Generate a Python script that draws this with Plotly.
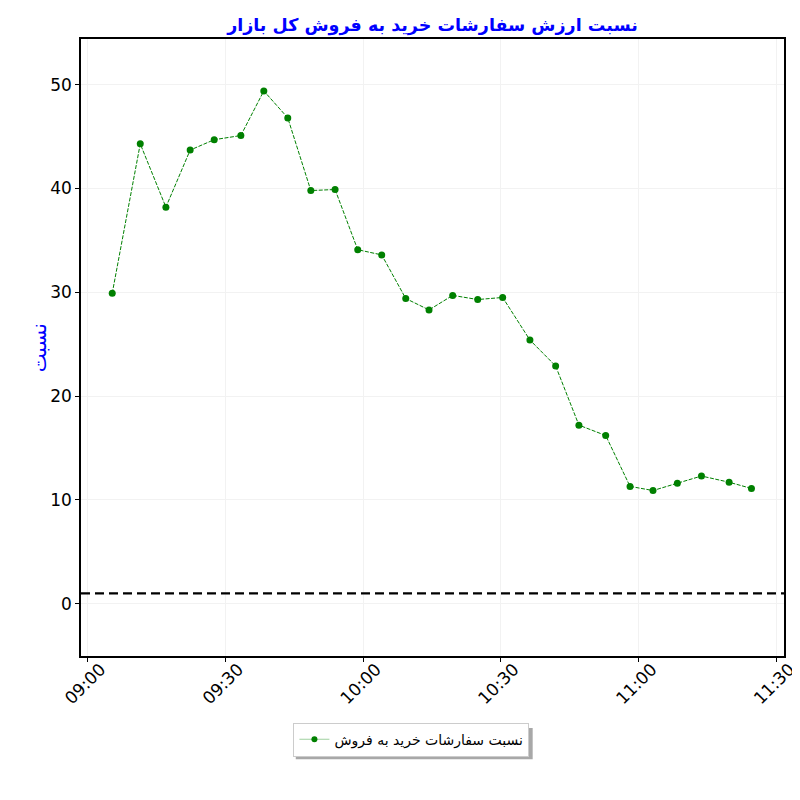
import plotly.graph_objects as go

# ساعت نمونه‌ها و نسبت ارزش سفارشات خرید به فروش
times = ["09:05:22", "09:11:28", "09:17:03", "09:22:20", "09:27:34", "09:33:22",
         "09:38:22", "09:43:35", "09:48:36", "09:53:53", "09:58:49", "10:04:02",
         "10:09:16", "10:14:20", "10:19:29", "10:24:56", "10:30:22", "10:36:18",
         "10:41:54", "10:46:58", "10:52:48", "10:58:06", "11:03:06", "11:08:24",
         "11:13:39", "11:19:40", "11:24:32"]
ratio = [29.9, 44.3, 38.2, 43.7, 44.7, 45.1, 49.4, 46.8, 39.8, 39.9, 34.1, 33.6,
         29.4, 28.3, 29.7, 29.3, 29.5, 25.4, 22.9, 17.2, 16.2, 11.3, 10.9, 11.6,
         12.3, 11.7, 11.1]
threshold = 1

day = "2024-01-01 "
x = [day + t for t in times]

title_text = "نسبت ارزش سفارشات خرید به فروش کل بازار"
ylabel_text = "نسبت"
legend_text = "نسبت سفارشات خرید به فروش"

fig = go.Figure()
fig.add_trace(go.Scatter(
    x=x, y=ratio, mode="lines+markers", name=legend_text, showlegend=False,
    line=dict(color="green", width=1, dash="4px,1.5px"),
    marker=dict(color="green", size=7),
))
# legend entry only (lighter solid line like the original legend key)
fig.add_trace(go.Scatter(
    x=[None], y=[None], mode="lines+markers", name=legend_text,
    line=dict(color="#9fd09f", width=1.2),
    marker=dict(color="green", size=6),
))

fig.add_hline(y=threshold, line=dict(color="black", width=2.2, dash="9px,5px"))

# y axis title as a rotated annotation
fig.add_annotation(text=ylabel_text, xref="paper", yref="paper", x=-0.06, y=0.5,
                   xanchor="center", yanchor="middle",
                   textangle=-90, showarrow=False,
                   font=dict(size=20, color="blue", family="DejaVu Sans"))

# legend shadow
fig.add_shape(type="rect", xref="paper", yref="paper",
              x0=0.3055, x1=0.6425, y0=-0.1672, y1=-0.1167,
              fillcolor="#a8a8a8", line=dict(width=0), layer="above")

fig.update_layout(
    width=800, height=800,
    paper_bgcolor="white", plot_bgcolor="white",
    margin=dict(l=73, r=24, t=31, b=152, autoexpand=False),
    font=dict(family="DejaVu Sans", size=17, color="black"),
    title=dict(text="<b>" + title_text + "</b>", x=0.5306, xanchor="center",
               y=0.979, yanchor="middle",
               font=dict(size=17.5, color="blue", family="DejaVu Sans")),
    showlegend=True,
    legend=dict(x=0.47, xanchor="center", y=-0.108, yanchor="top",
                bordercolor="#cccccc", borderwidth=1, bgcolor="white",
                font=dict(size=14, family="DejaVu Sans")),
)

fig.update_xaxes(
    type="date", automargin=False,
    range=[day + "08:58:34", day + "11:31:37"],
    tickformat="%H:%M", dtick=30 * 60 * 1000, tick0=day + "09:00",
    tickangle=-45, ticklabelshift=13, ticklabelstandoff=-9,
    ticks="outside", ticklen=4, tickcolor="black",
    showline=True, linecolor="black", linewidth=1.5, mirror=True,
    showgrid=True, gridcolor="#f2f2f2", gridwidth=1, zeroline=False,
)
fig.update_yaxes(
    automargin=False,
    range=[-5.04, 54.4], dtick=10, tick0=0,
    ticks="outside", ticklen=4, tickcolor="black",
    showline=True, linecolor="black", linewidth=1.5, mirror=True,
    showgrid=True, gridcolor="#f2f2f2", gridwidth=1, zeroline=False,
)

fig.write_html("out.html")
